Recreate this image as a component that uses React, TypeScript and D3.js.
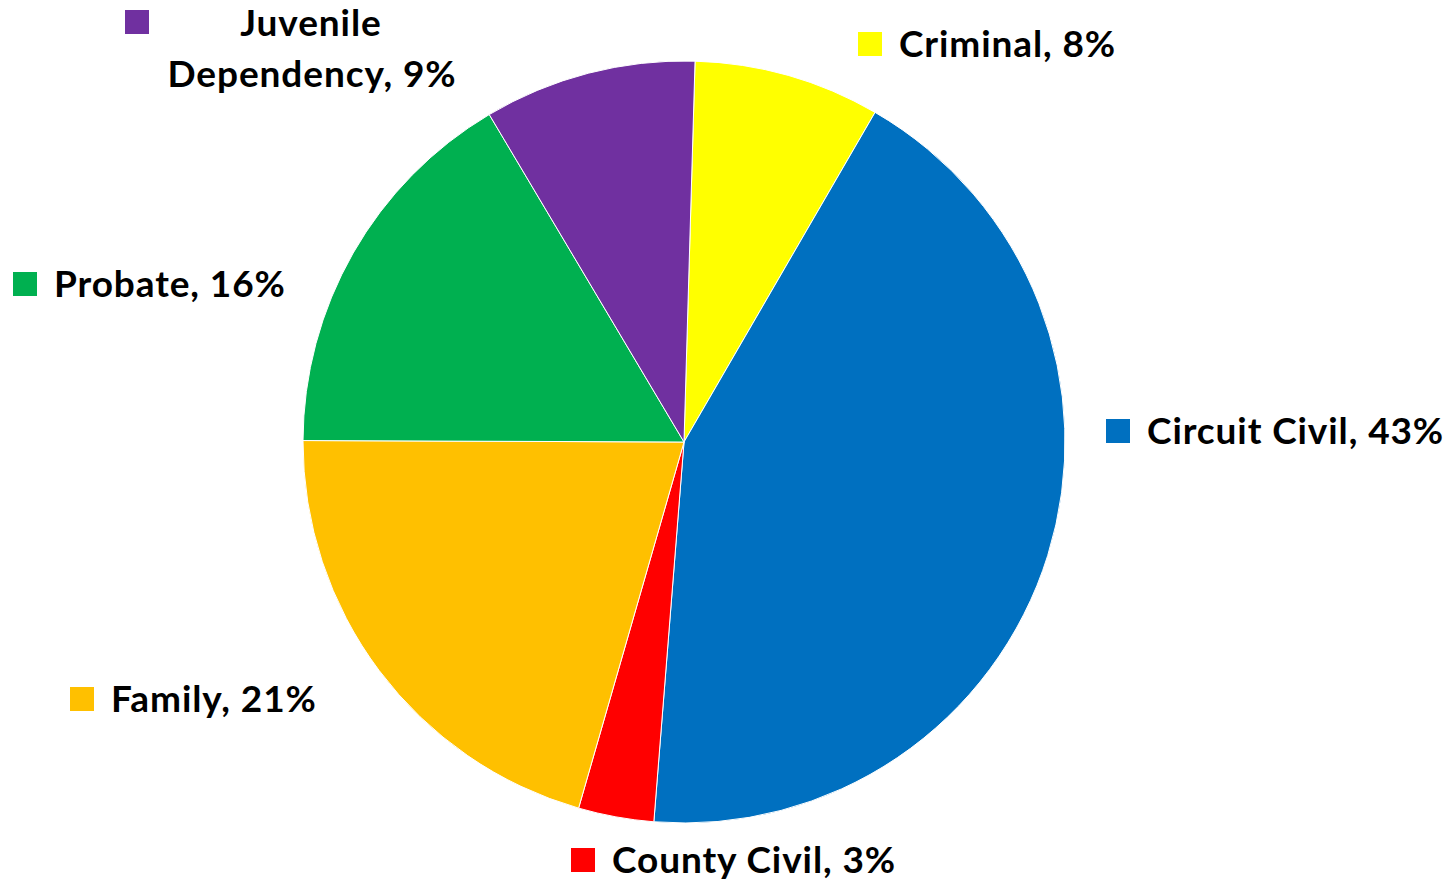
import * as React from "react";
import { arc, pie, PieArcDatum } from "d3";

const categories = [
  "Criminal",
  "Circuit Civil",
  "County Civil",
  "Family",
  "Probate",
  "Juvenile Dependency",
];
const shares = [7.9, 42.9, 3.2, 20.6, 16.4, 9.0];
const shareLabels = ["8%", "43%", "3%", "21%", "16%", "9%"];
const colours = ["#FFFF00", "#0070C0", "#FF0000", "#FFC000", "#00B050", "#7030A0"];

// label layout: square top-left corner
const labelBox = [
  [858, 32],
  [1106, 419],
  [571, 848],
  [70, 687],
  [13, 272],
  [125, 10],
];

const W = 1452;
const H = 883;
const cx = 684;
const cy = 442;
const radius = 381;
const startOffset = (1.66 * Math.PI) / 180;
const fontSize = 37;
const spacing = 0.9;
const font = "Lato, 'Open Sans', sans-serif";

const Slice = (props: { arcObj: PieArcDatum<number>; fill: string }) => {
  const { arcObj, fill } = props;
  const path = arc<PieArcDatum<number>>().innerRadius(0).outerRadius(radius);
  return <path d={path(arcObj) || ""} fill={fill} stroke="#ffffff" strokeWidth={1} />;
};

const Label = (props: { i: number }) => {
  const { i } = props;
  const [x, y] = labelBox[i];
  const name = categories[i];
  const sq = 24;
  if (name === "Juvenile Dependency") {
    // two-line label, text centred to the right of the marker
    return (
      <g>
        <rect x={x} y={y} width={sq} height={sq} fill={colours[i]} />
        <text
          textAnchor="middle"
          fontFamily={font}
          fontWeight="bold"
          fontSize={fontSize}
          letterSpacing={spacing}
          fill="#000"
        >
          <tspan x={x + 186} y={y + 26}>Juvenile</tspan>
          <tspan x={x + 187} y={y + 77}>{`Dependency, ${shareLabels[i]}`}</tspan>
        </text>
      </g>
    );
  }
  return (
    <g>
      <rect x={x} y={y} width={sq} height={sq} fill={colours[i]} />
      <text
        x={x + 41}
        y={y + 25}
        fontFamily={font}
        fontWeight="bold"
        fontSize={fontSize}
        letterSpacing={spacing}
        fill="#000"
      >
        {`${name}, ${shareLabels[i]}`}
      </text>
    </g>
  );
};

export default function App() {
  const layout = pie<number>()
    .sort(null)
    .startAngle(startOffset)
    .endAngle(startOffset + 2 * Math.PI);
  const arcs = layout(shares);

  return (
    <svg
      width={W}
      height={H}
      style={{ position: "absolute", left: 0, top: 0, background: "#fff" }}
    >
      <g transform={`translate(${cx},${cy})`}>
        {arcs.map((a, i) => (
          <Slice key={categories[i]} arcObj={a} fill={colours[i]} />
        ))}
      </g>
      {categories.map((c, i) => (
        <Label key={c} i={i} />
      ))}
    </svg>
  );
}
